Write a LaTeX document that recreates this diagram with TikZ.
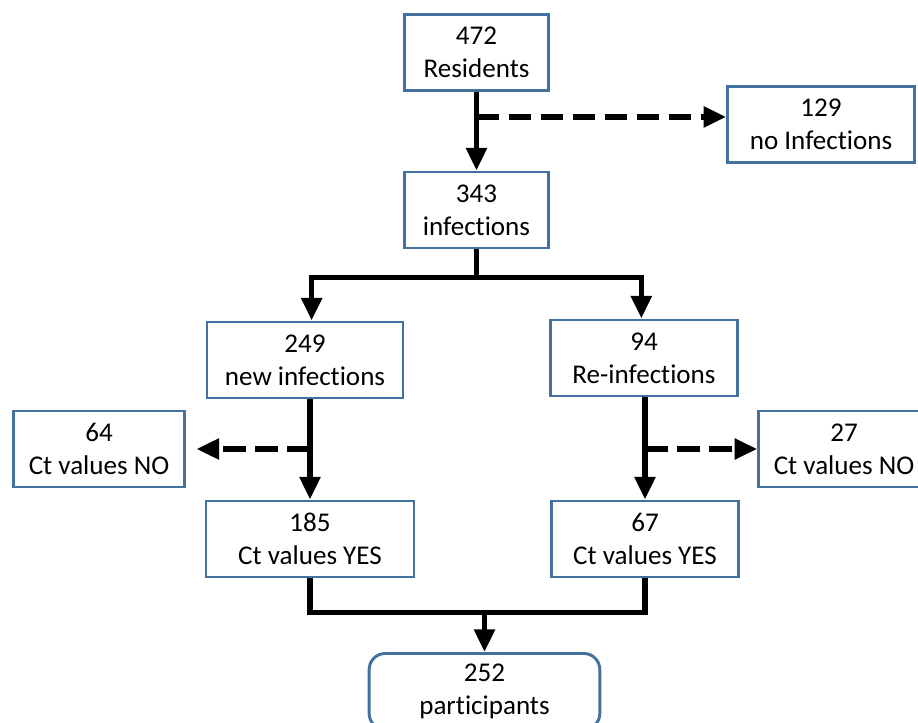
\documentclass[tikz,border=0pt]{standalone}
\usepackage{fontspec}
\setmainfont[Ligatures=NoCommon]{Carlito}
\usepackage{xcolor}
\definecolor{BoxBlue}{RGB}{65,113,156}
\usetikzlibrary{arrows.meta}

\begin{document}
\begin{tikzpicture}[x=0.75pt, y=-0.75pt, font=\fontsize{20.3}{24.75}\selectfont,
	box/.style={draw=BoxBlue, line width=2.2pt, align=center, inner sep=0pt, minimum height=57pt},
	flow/.style={line width=4.2pt, -{Triangle[length=17pt,width=15pt]}},
	side/.style={flow, dash pattern=on 17pt off 7pt}]
	\clip (0,0) rectangle (918,723);
	\node[box, minimum width=108pt] (res) at (476.5,52.5) {472\\Residents};
	\node[box, minimum width=140pt] (noinf) at (821,124.5) {129\\no Infections};
	\node[box, minimum width=108pt] (inf) at (476.5,210) {343\\infections};
	\node[box, minimum width=147pt] (newinf) at (305,360) {249\\new infections};
	\node[box, minimum width=140pt] (reinf) at (644,358) {94\\Re-infections};
	\node[box, minimum width=128pt] (no1) at (99,449) {64\\Ct values NO};
	\node[box, minimum width=128pt] (no2) at (844,449) {27\\Ct values NO};
	\node[box, minimum width=156pt] (yes1) at (310,539) {185\\Ct values YES};
	\node[box, minimum width=140pt] (yes2) at (645,539) {67\\Ct values YES};
	\node[box, minimum width=173pt, rounded corners=12pt] (part) at (484.5,691.5) {252\\participants};
	\draw[flow] (res) -- (inf);
	\path (res.south) ++(0,25) coordinate (b1);
	\draw[side] (b1) -- (b1 -| noinf.west);
	\draw[flow] (inf.south) -- ++(0,28) -| ([xshift=5pt]newinf.north);
	\draw[flow] (inf.south) -- ++(0,28) -| ([xshift=-2pt]reinf.north);
	\draw[flow] (newinf.south -| yes1.north) -- (yes1.north);
	\coordinate (b2) at (yes1.north |- no1.east);
	\draw[side] (b2) -- ([xshift=8pt]no1.east);
	\draw[flow] (reinf.south -| yes2.north) -- (yes2.north);
	\coordinate (b3) at (yes2.north |- no2.west);
	\draw[side] (b3) -- (no2.west);
	\draw[line width=4.2pt] (yes1.south) -- ++(0,34) coordinate (b4) -| (yes2.south);
	\draw[flow] (part.north |- b4) -- (part.north);
\end{tikzpicture}
\end{document}
